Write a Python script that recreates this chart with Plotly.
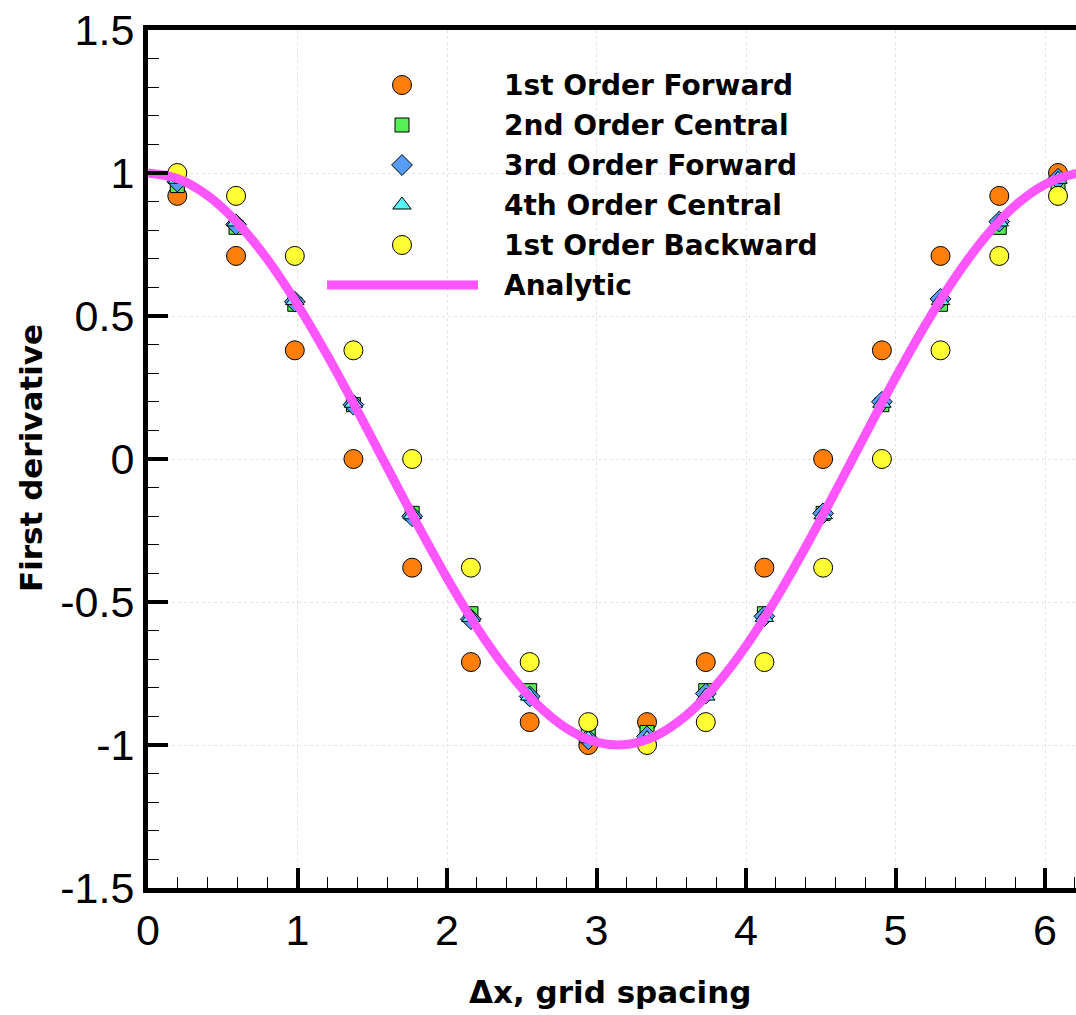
import plotly.graph_objects as go

# ---- data ----
x_pts = [0.196, 0.589, 0.982, 1.374, 1.767, 2.160, 2.553, 2.945,
         3.338, 3.731, 4.123, 4.516, 4.909, 5.301, 5.694, 6.087]
fwd1 = [0.92, 0.71, 0.38, 0.00, -0.38, -0.71, -0.92, -1.00,
        -0.92, -0.71, -0.38, 0.00, 0.38, 0.71, 0.92, 1.00]
cen2 = [0.956, 0.810, 0.541, 0.190, -0.190, -0.541, -0.810, -0.956,
        -0.956, -0.810, -0.541, -0.190, 0.190, 0.541, 0.810, 0.956]
fwd3 = [0.97, 0.82, 0.55, 0.19, -0.20, -0.56, -0.83, -0.98,
        -0.97, -0.82, -0.55, -0.19, 0.20, 0.56, 0.83, 0.98]
cen4 = [0.978, 0.829, 0.554, 0.195, -0.195, -0.554, -0.829, -0.978,
        -0.978, -0.829, -0.554, -0.195, 0.195, 0.554, 0.829, 0.978]
bwd1 = [1.00, 0.92, 0.71, 0.38, 0.00, -0.38, -0.71, -0.92,
        -1.00, -0.92, -0.71, -0.38, 0.00, 0.38, 0.71, 0.92]

x_an = [0.0, 0.2, 0.4, 0.6, 0.8, 1.0, 1.2, 1.4, 1.6, 1.8, 2.0, 2.2, 2.4, 2.6,
        2.8, 3.0, 3.2, 3.4, 3.6, 3.8, 4.0, 4.2, 4.4, 4.6, 4.8, 5.0, 5.2, 5.4,
        5.6, 5.8, 6.0, 6.2, 6.28]
y_an = [1.000, 0.980, 0.921, 0.825, 0.697, 0.540, 0.362, 0.170, -0.029,
        -0.227, -0.416, -0.589, -0.737, -0.857, -0.942, -0.990, -0.998,
        -0.967, -0.897, -0.791, -0.654, -0.490, -0.307, -0.112, 0.087,
        0.284, 0.469, 0.635, 0.776, 0.886, 0.960, 0.997, 1.000]

names = ["1st Order Forward", "2nd Order Central", "3rd Order Forward",
         "4th Order Central", "1st Order Backward", "Analytic"]

FONT = "Liberation Sans, Arial, sans-serif"
BFONT = "DejaVu Sans, Liberation Sans, sans-serif"
series = [
    (fwd1, "circle", "#FF7F0A", 19),
    (cen2, "square", "#55F055", 14),
    (fwd3, "diamond", "#559CF5", 16),
    (cen4, "triangle-up", "#55F5F5", 16),
    (bwd1, "circle", "#FFFF33", 19),
]
LINE_COLOR = "#FF55FF"

fig = go.Figure()
for (vals, sym, col, sz), nm in zip(series, names):
    fig.add_trace(go.Scatter(
        x=x_pts, y=vals, mode="markers", name=nm, showlegend=False,
        marker=dict(symbol=sym, color=col, size=sz,
                    line=dict(color="black", width=1))))
fig.add_trace(go.Scatter(x=x_an, y=y_an, mode="lines", name=names[5],
                         showlegend=False, line_shape="spline",
                         line=dict(color=LINE_COLOR, width=9)))

# ---- manual legend on a pixel-like overlay axis ----
L = 148
T = 30
B = 888
R = 1076
leg_rows = [85, 125, 165, 205, 245, 285]
for i, ((vals, sym, col, sz), nm) in enumerate(zip(series, names)):
    fig.add_trace(go.Scatter(
        x=[402], y=[leg_rows[i]], xaxis="x2", yaxis="y2", mode="markers",
        showlegend=False, hoverinfo="skip",
        marker=dict(symbol=sym, color=col, size=sz,
                    line=dict(color="black", width=1))))
fig.add_trace(go.Scatter(
    x=[327, 478], y=[leg_rows[5], leg_rows[5]], xaxis="x2", yaxis="y2",
    mode="lines", showlegend=False, hoverinfo="skip",
    line=dict(color=LINE_COLOR, width=9)))
for i, nm in enumerate(names):
    fig.add_annotation(x=502, y=leg_rows[i], xref="x2", yref="y2", text=nm,
                       showarrow=False, xanchor="left", yanchor="middle",
                       font=dict(family=BFONT, size=28, color="black",
                                 weight="bold"))

# axis titles
fig.add_annotation(x=(610 - L) / (R - L), y=(B - 992) / (B - T), xref="paper",
                   yref="paper", text="Δx, grid spacing", showarrow=False,
                   xanchor="center", yanchor="middle",
                   font=dict(family=BFONT, size=31, color="black", weight="bold"))
fig.add_annotation(x=(31 - L) / (R - L), y=(B - 458) / (B - T), xref="paper",
                   yref="paper", text="First derivative", showarrow=False,
                   textangle=-90, xanchor="center", yanchor="middle",
                   font=dict(family=BFONT, size=31, color="black", weight="bold"))

fig.update_layout(
    width=1076, height=1015,
    margin=dict(l=L, r=1076 - R, t=T, b=1015 - B, pad=0),
    plot_bgcolor="white", paper_bgcolor="white",
    font=dict(family=FONT, color="black"),
    xaxis=dict(range=[0, (R - L) / 149.5], tickvals=[0, 1, 2, 3, 4, 5, 6],
               ticks="inside", ticklen=20, tickwidth=4, tickcolor="black",
               showline=True, linewidth=5, linecolor="black", mirror=True,
               showgrid=True, gridcolor="#e4e4e4", griddash="dot", gridwidth=1,
               zeroline=False, tickfont=dict(size=43, family=FONT),
               minor=dict(dtick=0.2, ticks="inside", ticklen=11, tickwidth=1.3,
                          tickcolor="black", showgrid=False)),
    yaxis=dict(range=[-1.5, 1.5], tickvals=[-1.5, -1, -0.5, 0, 0.5, 1, 1.5],
               ticktext=["-1.5", "-1", "-0.5", "0", "0.5", "1", "1.5"],
               ticks="inside", ticklen=20, tickwidth=4, tickcolor="black",
               showline=True, linewidth=5, linecolor="black",
               showgrid=True, gridcolor="#e4e4e4", griddash="dot", gridwidth=1,
               zeroline=False, tickfont=dict(size=43, family=FONT),
               minor=dict(dtick=0.1, ticks="inside", ticklen=11, tickwidth=1.3,
                          tickcolor="black", showgrid=False)),
    xaxis2=dict(range=[L, R], overlaying="x", anchor="y2", visible=False,
                domain=[0, 1]),
    yaxis2=dict(range=[B, T], overlaying="y", anchor="x2", visible=False),
)

fig.write_html("out.html")
